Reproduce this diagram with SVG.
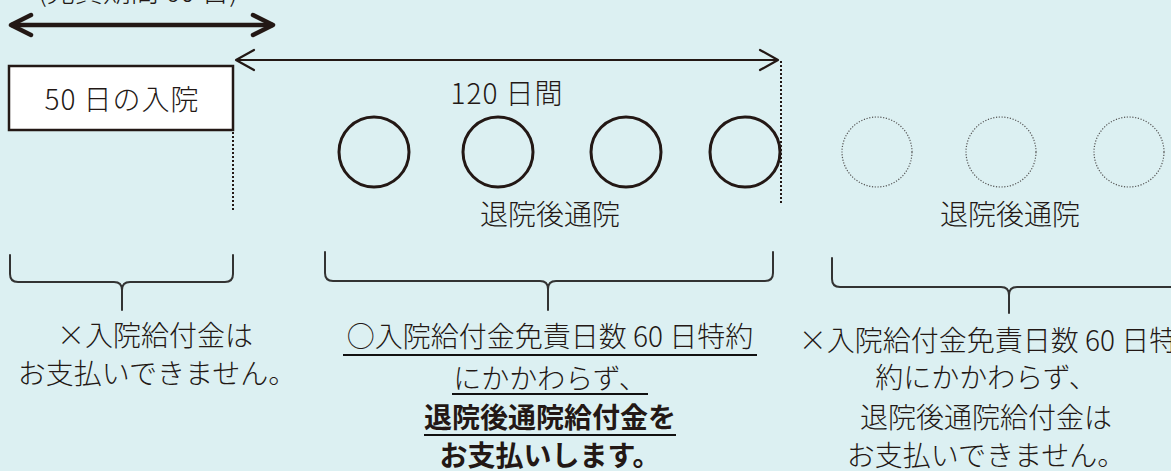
<svg xmlns="http://www.w3.org/2000/svg" width="1171" height="471" viewBox="0 0 1171 471">
<style>
.t{font-family:"Noto Sans CJK JP","Noto Sans",sans-serif;font-size:28px;fill:#231815;font-weight:300}
.b{font-weight:700}
.mid{text-anchor:middle}
.wide{letter-spacing:1px}
.ln{stroke:#231815;fill:none}
.brace{stroke:#333;stroke-width:2;fill:none;stroke-linecap:round;stroke-linejoin:round}
.dot{stroke:#231815;stroke-width:2;stroke-dasharray:2 2;fill:none}
.solid{stroke:#231815;stroke-width:3;fill:none}
.dcirc{stroke:#555;stroke-width:1.2;stroke-dasharray:1.2 1.6;fill:none}
.ul{stroke:#111;stroke-width:2.2}
</style>
<defs>
<marker id="headThick" viewBox="0 0 26 26" refX="23" refY="13" markerWidth="26" markerHeight="26" markerUnits="userSpaceOnUse" orient="auto-start-reverse">
<path d="M3,3 L23,13 L3,23" fill="none" stroke="#231815" stroke-width="4.5" stroke-linecap="round" stroke-linejoin="round"/>
</marker>
<marker id="headThin" viewBox="0 0 22 24" refX="20" refY="12" markerWidth="22" markerHeight="24" markerUnits="userSpaceOnUse" orient="auto-start-reverse">
<path d="M2,2 L20,12 L2,22" fill="none" stroke="#231815" stroke-width="2.2" stroke-linecap="round" stroke-linejoin="round"/>
</marker>
</defs>
<rect x="0" y="0" width="1171" height="471" fill="#dcf0f2"/>

<g id="exemption-label">
<text class="t mid" x="138" y="2">(免責期間 60 日)</text>
</g>

<g id="connectors">
<line class="ln" x1="11" y1="25" x2="273" y2="25" stroke-width="4.5" marker-start="url(#headThick)" marker-end="url(#headThick)"/>
<line class="ln" x1="236" y1="60" x2="778" y2="60" stroke-width="2.2" marker-start="url(#headThin)" marker-end="url(#headThin)"/>
<line class="dot" x1="233" y1="132" x2="233" y2="212"/>
<line class="dot" x1="781" y1="61" x2="781" y2="203"/>
</g>

<g id="admission-box">
<rect x="9" y="66" width="224" height="64" fill="#fff" stroke="#231815" stroke-width="2.5"/>
<text class="t mid wide" x="122" y="110">50 日の入院</text>
</g>

<g id="period-label">
<text class="t mid wide" x="507" y="104">120 日間</text>
</g>

<g id="visits-covered">
<circle class="solid" cx="374" cy="152" r="35"/>
<circle class="solid" cx="498" cy="152" r="35"/>
<circle class="solid" cx="626" cy="152" r="35"/>
<circle class="solid" cx="745" cy="152" r="35"/>
<text class="t mid" x="550" y="225">退院後通院</text>
</g>

<g id="visits-not-covered">
<circle class="dcirc" cx="877" cy="152" r="35"/>
<circle class="dcirc" cx="1001" cy="152" r="35"/>
<circle class="dcirc" cx="1129" cy="152" r="35"/>
<text class="t mid" x="1010" y="225">退院後通院</text>
</g>

<g id="brace-left">
<path class="brace" d="M10,255 V274 Q10,282 18,282 H114 Q122,282 122,290 V310 M233,255 V274 Q233,282 225,282 H130 Q122,282 122,290"/>
<text class="t mid" x="155" y="346">×入院給付金は</text>
<text class="t mid" x="157" y="384">お支払いできません。</text>
</g>

<g id="brace-middle">
<path class="brace" d="M325,252 V273 Q325,281 333,281 H540 Q548,281 548,289 V310 M773,252 V273 Q773,281 765,281 H556 Q548,281 548,289"/>
<text class="t mid" x="550" y="347">○入院給付金免責日数 60 日特約</text>
<line class="ul" x1="343" y1="355" x2="757" y2="355"/>
<text class="t mid" x="550" y="389">にかかわらず、</text>
<line class="ul" x1="452" y1="394" x2="648" y2="394"/>
<text class="t b mid" x="550" y="428">退院後通院給付金を</text>
<line class="ul" x1="424" y1="435" x2="676" y2="435"/>
<text class="t b mid" x="550" y="466">お支払いします。</text>
</g>

<g id="brace-right">
<path class="brace" d="M832,258 V279 Q832,287 840,287 H1001 Q1009,287 1009,295 V313 M1186,258 V279 Q1186,287 1178,287 H1017 Q1009,287 1009,295"/>
<text class="t mid" x="988" y="351">×入院給付金免責日数 60 日特</text>
<text class="t mid" x="986" y="388">約にかかわらず、</text>
<text class="t mid" x="986" y="428">退院後通院給付金は</text>
<text class="t mid" x="986" y="466">お支払いできません。</text>
</g>
</svg>
